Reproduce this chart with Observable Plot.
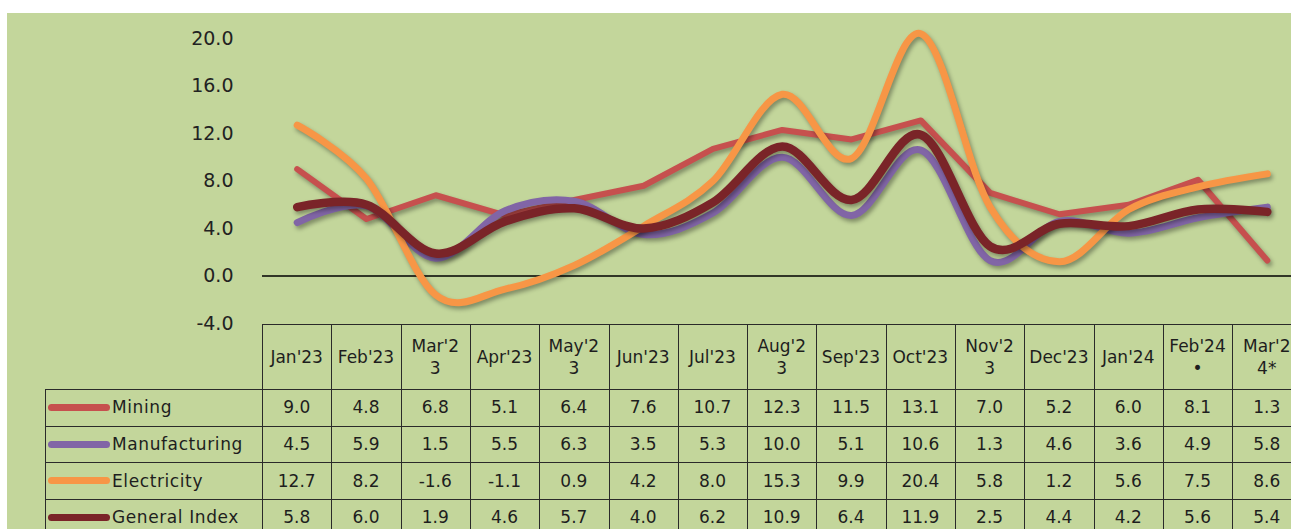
<!DOCTYPE html>
<html>
<head>
<meta charset="utf-8">
<script src="https://cdn.jsdelivr.net/npm/d3@7"></script>
<script src="https://cdn.jsdelivr.net/npm/@observablehq/plot@0.6"></script>
<style>
  html, body { margin: 0; padding: 0; background: #ffffff; }
  #wrap { position: relative; width: 1291px; height: 529px; overflow: hidden; background: #ffffff; font-family: "DejaVu Sans", sans-serif; }
  #panel { position: absolute; left: 7px; top: 13px; width: 1284px; height: 516px; background: #c3d69b; }
  #chart { position: absolute; left: 0; top: 0; }
  #chart svg g[aria-label="line"] path { filter: drop-shadow(2px 3px 2px rgba(0,0,0,0.35)); }
  .cell { position: absolute; display: flex; align-items: center; justify-content: center; text-align: center; white-space: pre-line; line-height: 22px; font-size: 17px; color: #1e1e1e; }
  .cell.leg { justify-content: flex-start; letter-spacing: 0.6px; }
  .hl, .vl { position: absolute; background: #2a2a2a; }
  .hl { height: 1px; }
  .vl { width: 1px; }
  .sw { display: inline-block; width: 62px; height: 7px; border-radius: 4px; margin: 0 2px 0 3px; }
</style>
</head>
<body>
<div id="wrap">
  <div id="panel"></div>
  <div id="chart"></div>
</div>
<script>
// ---- data ----
const months = ["Jan'23","Feb'23","Mar'23","Apr'23","May'23","Jun'23","Jul'23","Aug'23","Sep'23","Oct'23","Nov'23","Dec'23","Jan'24","Feb'24*","Mar'24*"];
const headerLabels = ["Jan'23","Feb'23","Mar'2\n3","Apr'23","May'2\n3","Jun'23","Jul'23","Aug'2\n3","Sep'23","Oct'23","Nov'2\n3","Dec'23","Jan'24","Feb'24\n•","Mar'2\n4*"];
const seriesNames = ["Mining","Manufacturing","Electricity","General Index"];
const mining        = [9.0, 4.8, 6.8, 5.1, 6.4, 7.6, 10.7, 12.3, 11.5, 13.1, 7.0, 5.2, 6.0, 8.1, 1.3];
const manufacturing = [4.5, 5.9, 1.5, 5.5, 6.3, 3.5, 5.3, 10.0, 5.1, 10.6, 1.3, 4.6, 3.6, 4.9, 5.8];
const electricity   = [12.7, 8.2, -1.6, -1.1, 0.9, 4.2, 8.0, 15.3, 9.9, 20.4, 5.8, 1.2, 5.6, 7.5, 8.6];
const generalIndex  = [5.8, 6.0, 1.9, 4.6, 5.7, 4.0, 6.2, 10.9, 6.4, 11.9, 2.5, 4.4, 4.2, 5.6, 5.4];
const yTicks = [-4, 0, 4, 8, 12, 16, 20];

// ---- styles ----
const colors = {"Mining": "#c6504e", "Manufacturing": "#8165a6", "Electricity": "#f79646", "General Index": "#7a2428"};
const widths = {"Mining": 6, "Manufacturing": 7, "Electricity": 7, "General Index": 8.5};
const curves = {"Mining": "linear", "Manufacturing": "cardinal", "Electricity": "cardinal", "General Index": "cardinal"};
const valuesBySeries = {"Mining": mining, "Manufacturing": manufacturing, "Electricity": electricity, "General Index": generalIndex};

const rows = seriesNames.flatMap(s => months.map((m, i) => ({series: s, month: m, value: valuesBySeries[s][i]})));
const drawOrder = ["Mining", "Manufacturing", "Electricity", "General Index"];

const plot = Plot.plot({
  width: 1291,
  height: 340,
  marginTop: 38,
  marginBottom: 17,
  marginLeft: 262,
  marginRight: 0,
  style: {background: "transparent", fontFamily: "DejaVu Sans, sans-serif", fontSize: "19px", color: "#222", overflow: "visible"},
  x: {type: "point", domain: months, range: [296.7, 1266.8], padding: 0, round: false, axis: null},
  y: {domain: [-4, 20], ticks: yTicks, tickFormat: d => d.toFixed(1), tickSize: 0, tickPadding: 29, label: null},
  marks: [
    Plot.ruleY([0], {stroke: "#000", strokeWidth: 1.6}),
    ...drawOrder.map(s => Plot.line(rows.filter(d => d.series === s), {
      x: "month", y: "value", stroke: colors[s], strokeWidth: widths[s],
      curve: curves[s], strokeLinecap: "round", strokeLinejoin: "round"
    }))
  ]
});
document.getElementById("chart").appendChild(plot);

// ---- data table aligned to the x scale ----
const wrap = document.getElementById("wrap");
const xs = plot.scale("x");
const step = xs.apply(months[1]) - xs.apply(months[0]);
const colLeft = m => xs.apply(m) - step / 2;
const gridLeft = colLeft(months[0]);
const gridRight = xs.apply(months[months.length - 1]) + step / 2;
const legendLeft = 45;
const tableTop = 324;
const headerBottom = 389;
const rowH = 36.7;
const rowTops = seriesNames.map((s, i) => headerBottom + i * rowH);
const tableBottom = headerBottom + seriesNames.length * rowH;

function add(cls, style, content) {
  const d = document.createElement("div");
  d.className = cls;
  Object.assign(d.style, style);
  if (content !== undefined) {
    if (typeof content === "string") d.textContent = content; else d.appendChild(content);
  }
  wrap.appendChild(d);
  return d;
}

// header cells
months.forEach((m, i) => {
  add("cell", {left: colLeft(m) + "px", top: tableTop + "px", width: step + "px", height: (headerBottom - tableTop) + "px"}, headerLabels[i]);
});
// body cells
seriesNames.forEach((s, r) => {
  const frag = document.createElement("span");
  frag.style.display = "flex"; frag.style.alignItems = "center";
  const sw = document.createElement("span"); sw.className = "sw"; sw.style.background = colors[s];
  frag.appendChild(sw);
  frag.appendChild(document.createTextNode(s));
  add("cell leg", {left: legendLeft + "px", top: rowTops[r] + "px", width: (gridLeft - legendLeft) + "px", height: rowH + "px"}, frag);
  months.forEach((m, i) => {
    add("cell", {left: colLeft(m) + "px", top: rowTops[r] + "px", width: step + "px", height: rowH + "px"}, valuesBySeries[s][i].toFixed(1));
  });
});
// horizontal lines
add("hl", {left: gridLeft + "px", top: tableTop + "px", width: (gridRight - gridLeft) + "px"});
[headerBottom, ...rowTops.slice(1), tableBottom].forEach(y => {
  add("hl", {left: legendLeft + "px", top: y + "px", width: (gridRight - legendLeft) + "px"});
});
// vertical lines
months.forEach(m => add("vl", {left: colLeft(m) + "px", top: tableTop + "px", height: (tableBottom - tableTop) + "px"}));
add("vl", {left: gridRight + "px", top: tableTop + "px", height: (tableBottom - tableTop) + "px"});
add("vl", {left: legendLeft + "px", top: headerBottom + "px", height: (tableBottom - headerBottom) + "px"});
</script>
</body>
</html>
